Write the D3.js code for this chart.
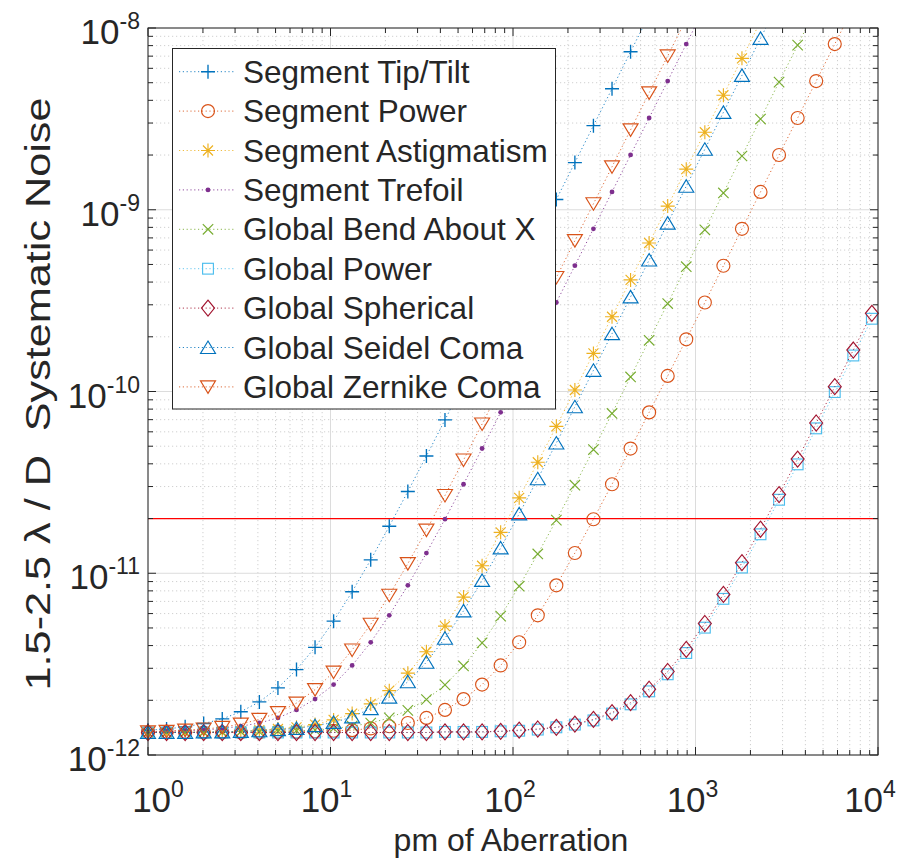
<!DOCTYPE html>
<html><head><meta charset="utf-8">
<script src="https://cdn.jsdelivr.net/npm/d3@7"></script>
<style>
body{margin:0;background:#fff}
text{font-family:"Liberation Sans",Arial,Helvetica,sans-serif;fill:#262626}
</style>
</head><body>
<svg id="chart" width="906" height="862"></svg>
<script>
// x values: pm of aberration
const pmValues = [1,1.264,1.598,2.019,2.552,3.225,4.076,5.152,6.511,8.229,
  10.40,13.14,16.61,20.99,26.53,33.54,42.39,53.57,67.71,85.57,
  108.1,136.7,172.8,218.3,275.9,348.8,440.8,557.1,704.1,889.9,
  1125,1422,1797,2271,2870,3628,4585,5795,7324,9256];

// systematic noise values, in units of 1e-12
const segmentTipTilt = [1.37,1.39,1.43,1.49,1.58,1.73,1.96,2.34,2.95,3.91,
  5.45,7.91,11.85,18.13,28.16,44.19,69.8,110.7,176.0,280.4,
  447.1,713.4,1139,1818,2901,4633,7403,11826];
const segmentPower = [1.33,1.33,1.33,1.33,1.33,1.33,1.33,1.34,1.34,1.35,
  1.36,1.37,1.40,1.44,1.50,1.60,1.77,2.03,2.44,3.11,
  4.17,5.87,8.58,12.92,19.83,30.88,48.54,76.76,121.8,193.7,
  308.7,492.2,785.5,1254,2002,3196,5106,8156,13025];
const segmentAstigmatism = [1.33,1.33,1.34,1.34,1.34,1.35,1.37,1.39,1.42,1.47,
  1.56,1.69,1.91,2.26,2.82,3.70,5.12,7.39,11.0,16.8,
  26.0,40.8,64.3,101.9,162.0,257.9,411.3,656.3,1047,1672,
  2670,4264,6810,10878];
const segmentTrefoil = [1.34,1.35,1.36,1.37,1.40,1.44,1.50,1.60,1.77,2.03,
  2.44,3.11,4.17,5.87,8.58,12.92,19.84,30.89,48.56,76.77,
  121.8,193.8,308.8,492.4,785.6,1254,2002,3198,5107,8157,13031];
const globalBendX = [1.33,1.33,1.33,1.33,1.33,1.34,1.34,1.35,1.36,1.37,
  1.40,1.44,1.50,1.60,1.76,2.02,2.43,3.09,4.14,5.81,
  8.49,12.77,19.60,30.51,47.93,75.75,120.2,191.3,304.7,485.9,
  775.5,1237,1976,3156,5040,8049,12858];
const globalPower = [1.33,1.33,1.33,1.33,1.33,1.33,1.33,1.33,1.33,1.33,
  1.33,1.33,1.33,1.33,1.33,1.33,1.34,1.34,1.34,1.35,
  1.36,1.38,1.42,1.47,1.55,1.69,1.90,2.24,2.78,3.64,
  5.02,7.23,10.75,16.38,25.37,39.73,62.68,99.3,157.8,251.3];
const globalSpherical = [1.33,1.33,1.33,1.33,1.33,1.33,1.33,1.33,1.33,1.33,
  1.33,1.33,1.33,1.33,1.33,1.33,1.34,1.34,1.34,1.35,
  1.37,1.39,1.42,1.48,1.57,1.71,1.94,2.30,2.88,3.81,
  5.29,7.65,11.43,17.47,27.10,42.49,67.09,106.3,169.1,269.3];
const globalSeidelComa = [1.33,1.33,1.33,1.34,1.34,1.35,1.36,1.38,1.40,1.45,
  1.51,1.62,1.80,2.08,2.53,3.24,4.39,6.21,9.13,13.78,
  21.22,33.10,52.08,82.39,130.8,208.0,331.6,529.0,844.0,1347,
  2152,3435,5487,8765,13998];
const globalZernikeComa = [1.34,1.35,1.37,1.39,1.42,1.48,1.57,1.71,1.93,2.29,
  2.86,3.78,5.24,7.57,11.30,17.26,26.78,41.97,66.25,105.0,
  167.0,266.0,424.0,676.4,1079,1723,2752,4396,7020,11212];

const seriesNames = ["Segment Tip/Tilt","Segment Power","Segment Astigmatism","Segment Trefoil",
  "Global Bend About X","Global Power","Global Spherical","Global Seidel Coma","Global Zernike Coma"];
const seriesValues = [segmentTipTilt,segmentPower,segmentAstigmatism,segmentTrefoil,
  globalBendX,globalPower,globalSpherical,globalSeidelComa,globalZernikeComa];
const seriesColors = ["#0072BD","#D95319","#EDB120","#7E2F8E","#77AC30","#4DBEEE","#A2142F","#0072BD","#D95319"];
const seriesMarkers = ["plus","circle","asterisk","point","cross","square","diamond","triangleUp","triangleDown"];

const thresholdValue = 2e-11;
const xTickValues = [1,10,100,1000,10000];
const xTickExp = ["0","1","2","3","4"];
const yTickValues = [1e-12,1e-11,1e-10,1e-9,1e-8];
const yTickExp = ["-12","-11","-10","-9","-8"];
const xLabel = "pm of Aberration";
const yLabel = "1.5-2.5 \u03BB / D  Systematic Noise";

// ---------- layout ----------
const L = 148, T = 28, W = 730, H = 727;
const svg = d3.select("#chart");
const x = d3.scaleLog().domain([1,1e4]).range([L, L+W]);
const y = d3.scaleLog().domain([1e-12,1e-8]).range([T+H, T]);
const axisColor = "#262626";

svg.append("defs").append("clipPath").attr("id","plotclip")
  .append("rect").attr("x",L).attr("y",T).attr("width",W).attr("height",H);

// minor ticks values
const minorX = [], minorY = [];
for (let d=0; d<4; d++) for (let m=2; m<=9; m++) minorX.push(m*Math.pow(10,d));
for (let d=-12; d<-8; d++) for (let m=2; m<=9; m++) minorY.push(m*Math.pow(10,d));

const grid = svg.append("g");
grid.selectAll(".mgx").data(minorX).join("line")
  .attr("x1",d=>x(d)).attr("x2",d=>x(d)).attr("y1",T).attr("y2",T+H)
  .attr("stroke","#c4c4c4").attr("stroke-width",0.8).attr("stroke-dasharray","1.2,2.8");
grid.selectAll(".mgy").data(minorY).join("line")
  .attr("y1",d=>y(d)).attr("y2",d=>y(d)).attr("x1",L).attr("x2",L+W)
  .attr("stroke","#c4c4c4").attr("stroke-width",0.8).attr("stroke-dasharray","1.2,2.8");
grid.selectAll(".Mgx").data(xTickValues).join("line")
  .attr("x1",d=>x(d)).attr("x2",d=>x(d)).attr("y1",T).attr("y2",T+H)
  .attr("stroke","#dcdcdc").attr("stroke-width",1);
grid.selectAll(".Mgy").data(yTickValues).join("line")
  .attr("y1",d=>y(d)).attr("y2",d=>y(d)).attr("x1",L).attr("x2",L+W)
  .attr("stroke","#dcdcdc").attr("stroke-width",1);

// threshold line
svg.append("line").attr("x1",L).attr("x2",L+W)
  .attr("y1",y(thresholdValue)).attr("y2",y(thresholdValue))
  .attr("stroke","#ff0000").attr("stroke-width",1.2);

// marker painter
function drawMarker(g, type, color){
  const sw = 1.15;
  switch(type){
    case "plus": g.append("path").attr("d","M-7,0H7M0,-7V7").attr("stroke",color).attr("stroke-width",sw+0.2).attr("fill","none"); break;
    case "circle": g.append("circle").attr("r",6.5).attr("stroke",color).attr("stroke-width",sw).attr("fill","none"); break;
    case "asterisk": g.append("path").attr("d","M-7,0H7M0,-7V7M-5,-5L5,5M-5,5L5,-5").attr("stroke",color).attr("stroke-width",sw).attr("fill","none"); break;
    case "point": g.append("circle").attr("r",2.4).attr("fill",color); break;
    case "cross": g.append("path").attr("d","M-5.2,-5.2L5.2,5.2M-5.2,5.2L5.2,-5.2").attr("stroke",color).attr("stroke-width",sw).attr("fill","none"); break;
    case "square": g.append("rect").attr("x",-5.4).attr("y",-5.4).attr("width",10.8).attr("height",10.8).attr("stroke",color).attr("stroke-width",sw).attr("fill","none"); break;
    case "diamond": g.append("path").attr("d","M0,-8L6.5,0L0,8L-6.5,0Z").attr("stroke",color).attr("stroke-width",sw).attr("fill","none"); break;
    case "triangleUp": g.append("path").attr("d","M0,-6.5L7.5,6L-7.5,6Z").attr("stroke",color).attr("stroke-width",sw).attr("fill","none"); break;
    case "triangleDown": g.append("path").attr("d","M0,6.5L7.5,-6L-7.5,-6Z").attr("stroke",color).attr("stroke-width",sw).attr("fill","none"); break;
  }
}

// series
const line = d3.line().x(d=>x(d[0])).y(d=>y(d[1]));
seriesValues.forEach((vals,i)=>{
  const pts = vals.map((v,k)=>[pmValues[k], v*1e-12]);
  svg.append("path").datum(pts).attr("d",line).attr("clip-path","url(#plotclip)")
    .attr("fill","none").attr("stroke",seriesColors[i]).attr("stroke-width",1)
    .attr("stroke-dasharray","1.2,2.6").attr("opacity",0.85);
  const mg = svg.append("g");
  pts.filter(p=>p[1]<=1e-8 && p[0]<=1e4).forEach(p=>{
    const g = mg.append("g").attr("transform",`translate(${x(p[0])},${y(p[1])})`);
    drawMarker(g, seriesMarkers[i], seriesColors[i]);
  });
});

// axes box + ticks
const ax = svg.append("g").attr("stroke",axisColor).attr("fill","none");
ax.append("rect").attr("x",L).attr("y",T).attr("width",W).attr("height",H).attr("stroke-width",1);
const majorLen = 8, minorLen = 5;
[[xTickValues,majorLen],[minorX,minorLen]].forEach(([vals,len])=>{
  vals.forEach(v=>{
    ax.append("line").attr("x1",x(v)).attr("x2",x(v)).attr("y1",T+H).attr("y2",T+H-len);
    ax.append("line").attr("x1",x(v)).attr("x2",x(v)).attr("y1",T).attr("y2",T+len);
  });
});
[[yTickValues,majorLen],[minorY,minorLen]].forEach(([vals,len])=>{
  vals.forEach(v=>{
    ax.append("line").attr("y1",y(v)).attr("y2",y(v)).attr("x1",L).attr("x2",L+len);
    ax.append("line").attr("y1",y(v)).attr("y2",y(v)).attr("x1",L+W).attr("x2",L+W-len);
  });
});

// tick labels
const xLabelShift = [10,-4,-3,-3,-8];
xTickValues.forEach((v,i)=>{
  const t = svg.append("text").attr("x",x(v)+xLabelShift[i]).attr("y",T+H+57).attr("text-anchor","middle").attr("font-size",35);
  t.append("tspan").text("10");
  t.append("tspan").attr("dy",-15).attr("font-size",23).text(xTickExp[i]);
});
yTickValues.forEach((v,i)=>{
  const t = svg.append("text").attr("x",140).attr("y",y(v)+16).attr("text-anchor","end").attr("font-size",35);
  t.append("tspan").text("10");
  t.append("tspan").attr("dy",-15).attr("font-size",23).text(yTickExp[i]);
});

// axis labels
svg.append("text").attr("x",511).attr("y",851).attr("text-anchor","middle").attr("font-size",32).text(xLabel);
svg.append("text").attr("transform",`translate(50,394) rotate(-90) scale(1.2,1)`).attr("text-anchor","middle")
  .attr("font-size",36).style("white-space","pre").text(yLabel);

// legend
const lg = svg.append("g");
lg.append("rect").attr("x",172.5).attr("y",48.5).attr("width",383).attr("height",360.5)
  .attr("fill","#fff").attr("stroke",axisColor).attr("stroke-width",1);
seriesNames.forEach((name,i)=>{
  const cy = 71.7 + i*39.4;
  lg.append("line").attr("x1",179).attr("x2",236).attr("y1",cy).attr("y2",cy)
    .attr("stroke",seriesColors[i]).attr("stroke-width",1).attr("stroke-dasharray","1.2,2.6").attr("opacity",0.85);
  const g = lg.append("g").attr("transform",`translate(208,${cy})`);
  drawMarker(g, seriesMarkers[i], seriesColors[i]);
  lg.append("text").attr("x",243).attr("y",cy+11).attr("font-size",31.5).attr("fill","#000").text(name);
});
</script>
</body></html>
